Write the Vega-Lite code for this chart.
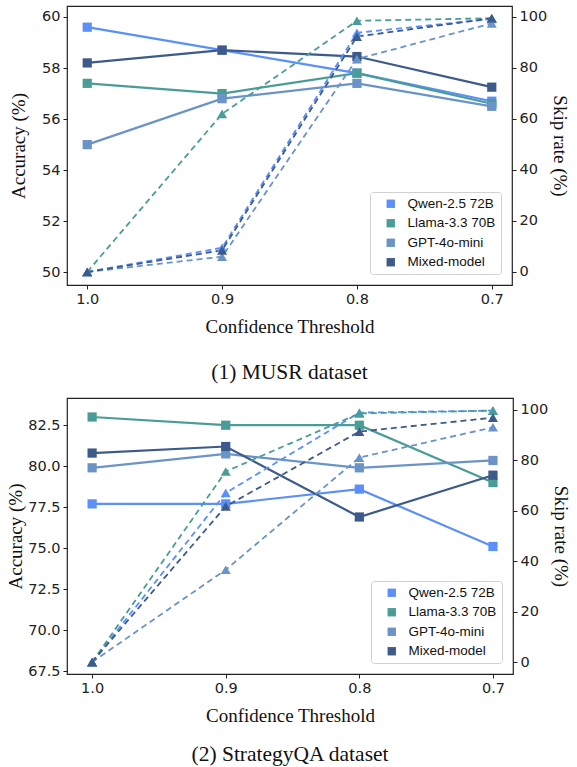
{
  "$schema": "https://vega.github.io/schema/vega-lite/v6.json",
  "padding": {"left": 6, "top": 5, "right": 0, "bottom": 0},
  "background": "white",
  "config": {
    "view": {"stroke": "#222", "strokeWidth": 1.2},
    "axis": {"labelFont": "DejaVu Sans", "labelFontSize": 14.5, "labelColor": "#222", "tickColor": "#222", "tickSize": 4, "domain": false, "grid": false, "titleFont": "Liberation Serif", "titleFontSize": 19, "titleFontWeight": "normal", "titleColor": "#111", "labelPadding": 3},
    "title": {"font": "Liberation Serif", "fontSize": 21.5, "fontWeight": "normal", "color": "#111"},
    "legend": {"orient": "bottom-right", "offset": 11, "symbolType": "square", "symbolSize": 70, "labelFont": "Liberation Sans", "labelFontSize": 13.5, "labelColor": "#111", "strokeColor": "#d0d0d0", "cornerRadius": 3, "padding": 5, "fillColor": "rgba(255,255,255,0.85)", "rowPadding": 4.5, "labelOffset": 10, "symbolOffset": 9}
  },
  "data": {"values": [
    {"d": "MUSR", "t": 1.0, "m": "Qwen-2.5 72B", "acc": 59.6, "skip": 0},
    {"d": "MUSR", "t": 0.9, "m": "Qwen-2.5 72B", "acc": 58.7, "skip": 9.5},
    {"d": "MUSR", "t": 0.8, "m": "Qwen-2.5 72B", "acc": 57.8, "skip": 93.8},
    {"d": "MUSR", "t": 0.7, "m": "Qwen-2.5 72B", "acc": 56.7, "skip": 99.2},
    {"d": "MUSR", "t": 1.0, "m": "Llama-3.3 70B", "acc": 57.4, "skip": 0},
    {"d": "MUSR", "t": 0.9, "m": "Llama-3.3 70B", "acc": 57.0, "skip": 62},
    {"d": "MUSR", "t": 0.8, "m": "Llama-3.3 70B", "acc": 57.8, "skip": 98.5},
    {"d": "MUSR", "t": 0.7, "m": "Llama-3.3 70B", "acc": 56.6, "skip": 99.5},
    {"d": "MUSR", "t": 1.0, "m": "GPT-4o-mini", "acc": 55.0, "skip": 0},
    {"d": "MUSR", "t": 0.9, "m": "GPT-4o-mini", "acc": 56.8, "skip": 6},
    {"d": "MUSR", "t": 0.8, "m": "GPT-4o-mini", "acc": 57.4, "skip": 83.5},
    {"d": "MUSR", "t": 0.7, "m": "GPT-4o-mini", "acc": 56.5, "skip": 97.5},
    {"d": "MUSR", "t": 1.0, "m": "Mixed-model", "acc": 58.2, "skip": 0},
    {"d": "MUSR", "t": 0.9, "m": "Mixed-model", "acc": 58.7, "skip": 8.5},
    {"d": "MUSR", "t": 0.8, "m": "Mixed-model", "acc": 58.45, "skip": 92.3},
    {"d": "MUSR", "t": 0.7, "m": "Mixed-model", "acc": 57.25, "skip": 99.5},
    {"d": "SQA", "t": 1.0, "m": "Qwen-2.5 72B", "acc": 77.7, "skip": 0},
    {"d": "SQA", "t": 0.9, "m": "Qwen-2.5 72B", "acc": 77.7, "skip": 67},
    {"d": "SQA", "t": 0.8, "m": "Qwen-2.5 72B", "acc": 78.6, "skip": 98.8},
    {"d": "SQA", "t": 0.7, "m": "Qwen-2.5 72B", "acc": 75.1, "skip": 99.6},
    {"d": "SQA", "t": 1.0, "m": "Llama-3.3 70B", "acc": 83.0, "skip": 0},
    {"d": "SQA", "t": 0.9, "m": "Llama-3.3 70B", "acc": 82.5, "skip": 75.5},
    {"d": "SQA", "t": 0.8, "m": "Llama-3.3 70B", "acc": 82.5, "skip": 98.5},
    {"d": "SQA", "t": 0.7, "m": "Llama-3.3 70B", "acc": 79.0, "skip": 99.6},
    {"d": "SQA", "t": 1.0, "m": "GPT-4o-mini", "acc": 79.9, "skip": 0},
    {"d": "SQA", "t": 0.9, "m": "GPT-4o-mini", "acc": 80.75, "skip": 36.6},
    {"d": "SQA", "t": 0.8, "m": "GPT-4o-mini", "acc": 79.9, "skip": 81},
    {"d": "SQA", "t": 0.7, "m": "GPT-4o-mini", "acc": 80.35, "skip": 93},
    {"d": "SQA", "t": 1.0, "m": "Mixed-model", "acc": 80.8, "skip": 0},
    {"d": "SQA", "t": 0.9, "m": "Mixed-model", "acc": 81.2, "skip": 61.7},
    {"d": "SQA", "t": 0.8, "m": "Mixed-model", "acc": 76.9, "skip": 91.3},
    {"d": "SQA", "t": 0.7, "m": "Mixed-model", "acc": 79.45, "skip": 96.8}
  ]},
  "spacing": 13,
  "resolve": {"scale": {"color": "independent", "stroke": "independent"}, "legend": {"color": "independent"}},
  "vconcat": [
    {
      "width": 445, "height": 279,
      "title": {"text": "(1) MUSR dataset", "orient": "bottom", "offset": 25},
      "transform": [{"filter": "datum.d === 'MUSR'"}],
      "encoding": {
        "x": {"field": "t", "type": "quantitative", "scale": {"domain": [0.685, 1.015], "reverse": true, "nice": false, "zero": false}, "axis": {"values": [1.0, 0.9, 0.8, 0.7], "format": ".1f", "title": "Confidence Threshold", "titlePadding": 12}},
        "color": {"field": "m", "type": "nominal", "scale": {"domain": ["Qwen-2.5 72B", "Llama-3.3 70B", "GPT-4o-mini", "Mixed-model"], "range": ["#5B8FF9", "#4A9D96", "#6A93C8", "#3C5A8A"]}, "legend": {"title": null, "symbolType": "square"}}
      },
      "layer": [
        {
          "encoding": {"y": {"field": "acc", "type": "quantitative", "scale": {"domain": [49.5, 60.43], "nice": false, "zero": false}, "axis": {"values": [50, 52, 54, 56, 58, 60], "title": "Accuracy (%)", "titlePadding": 13}}},
          "layer": [
            {"mark": {"type": "line", "strokeWidth": 2.2}, "encoding": {"color": null, "stroke": {"field": "m", "type": "nominal", "scale": {"domain": ["Mixed-model", "GPT-4o-mini", "Llama-3.3 70B", "Qwen-2.5 72B"], "range": ["#3C5A8A", "#6A93C8", "#4A9D96", "#5B8FF9"]}, "legend": null}}},
            {"mark": {"type": "point", "shape": "square", "filled": true, "size": 85, "opacity": 1}}
          ]
        },
        {
          "encoding": {"y": {"field": "skip", "type": "quantitative", "scale": {"domain": [-5.1, 104.3], "nice": false, "zero": false}, "axis": {"orient": "right", "values": [0, 20, 40, 60, 80, 100], "title": "Skip rate (%)", "titlePadding": 3}}},
          "layer": [
            {"mark": {"type": "line", "strokeWidth": 1.8, "strokeDash": [6, 4]}, "encoding": {"color": null, "stroke": {"field": "m", "type": "nominal", "legend": null}}},
            {"mark": {"type": "point", "shape": "triangle-up", "filled": true, "size": 100, "opacity": 1}}
          ]
        }
      ],
      "resolve": {"scale": {"y": "independent"}}
    },
    {
      "width": 446, "height": 276,
      "title": {"text": "(2) StrategyQA dataset", "orient": "bottom", "offset": 18},
      "transform": [{"filter": "datum.d === 'SQA'"}],
      "encoding": {
        "x": {"field": "t", "type": "quantitative", "scale": {"domain": [0.685, 1.0188], "reverse": true, "nice": false, "zero": false}, "axis": {"values": [1.0, 0.9, 0.8, 0.7], "format": ".1f", "title": "Confidence Threshold", "titlePadding": 12}},
        "color": {"field": "m", "type": "nominal", "scale": {"domain": ["Qwen-2.5 72B", "Llama-3.3 70B", "GPT-4o-mini", "Mixed-model"], "range": ["#5B8FF9", "#4A9D96", "#6A93C8", "#3C5A8A"]}, "legend": {"title": null, "symbolType": "square"}}
      },
      "layer": [
        {
          "encoding": {"y": {"field": "acc", "type": "quantitative", "scale": {"domain": [67.32, 84.16], "nice": false, "zero": false}, "axis": {"values": [67.5, 70, 72.5, 75, 77.5, 80, 82.5], "format": ".1f", "title": "Accuracy (%)", "titlePadding": 2}}},
          "layer": [
            {"mark": {"type": "line", "strokeWidth": 2.2}, "encoding": {"color": null, "stroke": {"field": "m", "type": "nominal", "scale": {"domain": ["Mixed-model", "GPT-4o-mini", "Llama-3.3 70B", "Qwen-2.5 72B"], "range": ["#3C5A8A", "#6A93C8", "#4A9D96", "#5B8FF9"]}, "legend": null}}},
            {"mark": {"type": "point", "shape": "square", "filled": true, "size": 85, "opacity": 1}}
          ]
        },
        {
          "encoding": {"y": {"field": "skip", "type": "quantitative", "scale": {"domain": [-4.7, 104.6], "nice": false, "zero": false}, "axis": {"orient": "right", "values": [0, 20, 40, 60, 80, 100], "title": "Skip rate (%)", "titlePadding": 3}}},
          "layer": [
            {"mark": {"type": "line", "strokeWidth": 1.8, "strokeDash": [6, 4]}, "encoding": {"color": null, "stroke": {"field": "m", "type": "nominal", "legend": null}}},
            {"mark": {"type": "point", "shape": "triangle-up", "filled": true, "size": 100, "opacity": 1}}
          ]
        }
      ],
      "resolve": {"scale": {"y": "independent"}}
    }
  ]
}
